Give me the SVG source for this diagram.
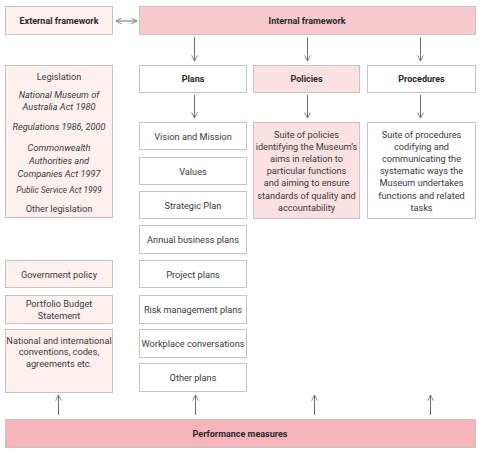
<svg xmlns="http://www.w3.org/2000/svg" width="480" height="454" viewBox="0 0 480 454">
<defs>
<marker id="ah" viewBox="0 0 10 10" refX="9" refY="5" markerWidth="7" markerHeight="7" orient="auto-start-reverse" markerUnits="userSpaceOnUse">
<path d="M1,1 L9,5 L1,9" fill="none" stroke="#6e6e6e" stroke-width="1.2"/>
</marker>
<style>
.box{stroke:#c4c4c4;stroke-width:1}
.w{fill:#ffffff}
.lp{fill:#fdf0ef}
.mp{fill:#fbe1e1}
.ip{fill:#f8c9cd}
.pp{fill:#f6b4bb}
text{font-family:Roboto,"Liberation Sans",sans-serif;font-size:9.2px;fill:#3a3a3a;text-anchor:middle;dominant-baseline:central}
.b{font-weight:bold;fill:#2a2a2a;font-size:9px}
.i{font-style:italic}
.con line{stroke:#6e6e6e;stroke-width:1;marker-end:url(#ah)}
</style>
</defs>
<rect width="480" height="454" fill="#ffffff"/>
<g id="external"><rect class="box lp" x="5.5" y="6.5" width="107" height="28"/><text class="b" x="59" y="20.5">External framework</text></g>
<g id="internal"><rect class="box ip" x="139.5" y="6.5" width="336" height="28"/><text class="b" x="307" y="20.5">Internal framework</text></g>
<g id="plans"><rect class="box w" x="139.5" y="65.5" width="107" height="27"/><text class="b" x="193" y="79">Plans</text></g>
<g id="policies"><rect class="box mp" x="253.5" y="65.5" width="106" height="27"/><text class="b" x="306.5" y="79">Policies</text></g>
<g id="procedures"><rect class="box w" x="367.5" y="65.5" width="108" height="27"/><text class="b" x="421.5" y="79">Procedures</text></g>
<g id="legislation"><rect class="box lp" x="5.5" y="65.5" width="107" height="152"/>
<text x="59" y="76">Legislation</text>
<text class="i" x="59" y="94">National Museum of</text>
<text class="i" x="59" y="106">Australia Act 1980</text>
<text class="i" x="59" y="126">Regulations 1986, 2000</text>
<text class="i" x="59" y="147">Commonwealth</text>
<text class="i" x="59" y="160">Authorities and</text>
<text class="i" x="59" y="173">Companies Act 1997</text>
<text class="i" x="59" y="190" style="font-size:8.4px">Public Service Act 1999</text>
<text x="59" y="208">Other legislation</text></g>
<g id="govpolicy"><rect class="box lp" x="5.5" y="260.5" width="107" height="27"/><text x="59" y="274">Government policy</text></g>
<g id="pbs"><rect class="box lp" x="5.5" y="295.5" width="107" height="28"/><text x="59" y="303.5">Portfolio Budget</text><text x="59" y="315.5">Statement</text></g>
<g id="conventions"><rect class="box lp" x="5.5" y="329.5" width="107" height="63"/><text x="59" y="340">National and international</text><text x="59" y="351.5">conventions, codes,</text><text x="59" y="363">agreements etc.</text></g>
<g id="vision"><rect class="box w" x="139.5" y="122.5" width="107" height="27"/><text x="193" y="136">Vision and Mission</text></g>
<g id="values"><rect class="box w" x="139.5" y="157.5" width="107" height="27"/><text x="193" y="171">Values</text></g>
<g id="strategic"><rect class="box w" x="139.5" y="191.5" width="107" height="27"/><text x="193" y="205">Strategic Plan</text></g>
<g id="annual"><rect class="box w" x="139.5" y="225.5" width="107" height="28"/><text x="193" y="239.5">Annual business plans</text></g>
<g id="project"><rect class="box w" x="139.5" y="260.5" width="107" height="27"/><text x="193" y="274">Project plans</text></g>
<g id="risk"><rect class="box w" x="139.5" y="295.5" width="107" height="28"/><text x="193" y="309.5">Risk management plans</text></g>
<g id="workplace"><rect class="box w" x="139.5" y="329.5" width="107" height="28"/><text x="193" y="343.5">Workplace conversations</text></g>
<g id="other"><rect class="box w" x="139.5" y="363.5" width="107" height="28"/><text x="193" y="377.5">Other plans</text></g>
<g id="policydesc"><rect class="box mp" x="253.5" y="122.5" width="106" height="96"/>
<text x="306.5" y="134">Suite of policies</text>
<text x="306.5" y="146.2">identifying the Museum’s</text>
<text x="306.5" y="158.4">aims in relation to</text>
<text x="306.5" y="170.6">particular functions</text>
<text x="306.5" y="182.8">and aiming to ensure</text>
<text x="306.5" y="195">standards of quality and</text>
<text x="306.5" y="207.2">accountability</text></g>
<g id="proceduredesc"><rect class="box w" x="367.5" y="122.5" width="108" height="96"/>
<text x="421.5" y="134">Suite of procedures</text>
<text x="421.5" y="146.2">codifying and</text>
<text x="421.5" y="158.4">communicating the</text>
<text x="421.5" y="170.6">systematic ways the</text>
<text x="421.5" y="182.8">Museum undertakes</text>
<text x="421.5" y="195">functions and related</text>
<text x="421.5" y="207.2">tasks</text></g>
<g id="performance"><rect class="box pp" x="5.5" y="419.5" width="470" height="28"/><text class="b" x="240" y="433.5">Performance measures</text></g>
<g class="con" id="connectors">
<line x1="116" y1="21" x2="137" y2="21" style="marker-start:url(#ah)"/>
<line x1="194.5" y1="37" x2="194.5" y2="61"/>
<line x1="307.5" y1="37" x2="307.5" y2="61"/>
<line x1="420.5" y1="37" x2="420.5" y2="61"/>
<line x1="194.5" y1="95" x2="194.5" y2="118"/>
<line x1="307.5" y1="95" x2="307.5" y2="118"/>
<line x1="420.5" y1="95" x2="420.5" y2="118"/>
<line x1="58.5" y1="415" x2="58.5" y2="395"/>
<line x1="195.5" y1="415" x2="195.5" y2="395"/>
<line x1="314.5" y1="415" x2="314.5" y2="395"/>
<line x1="430.5" y1="415" x2="430.5" y2="395"/>
</g>
</svg>
